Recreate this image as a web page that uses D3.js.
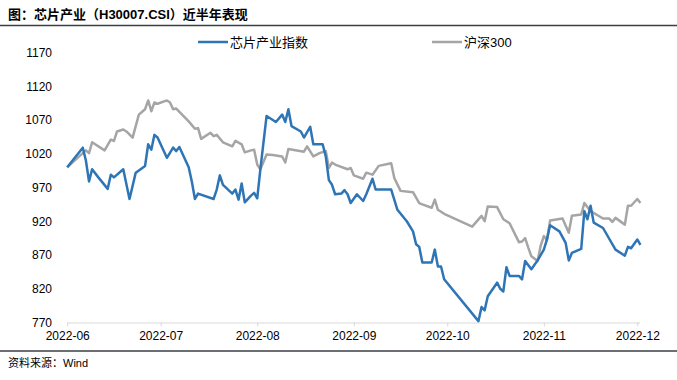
<!DOCTYPE html>
<html><head><meta charset="utf-8">
<script src="https://cdn.jsdelivr.net/npm/d3@7"></script>
<style>
html,body{margin:0;padding:0;background:#fff;}
svg{display:block;font-family:"Liberation Sans",Arial,"Noto Sans CJK SC",sans-serif;}
</style></head>
<body>
<svg id="c" width="677" height="380"></svg>
<script>
const titleText = "图：芯片产业（H30007.CSI）近半年表现";
const sourceText = "资料来源：Wind";
const seriesNames = ["芯片产业指数", "沪深300"];
const yTicks = [770, 820, 870, 920, 970, 1020, 1070, 1120, 1170];
const xTicks = ["2022-06-01","2022-07-01","2022-08-01","2022-09-01","2022-10-01","2022-11-01","2022-12-01"];

const chipDates = ["2022-06-01","2022-06-06","2022-06-07","2022-06-08","2022-06-09","2022-06-11","2022-06-14","2022-06-15","2022-06-16","2022-06-19","2022-06-21","2022-06-23","2022-06-26","2022-06-27","2022-06-28","2022-06-29","2022-06-30","2022-07-03","2022-07-05","2022-07-06","2022-07-07","2022-07-10","2022-07-11","2022-07-12","2022-07-13","2022-07-18","2022-07-19","2022-07-20","2022-07-21","2022-07-24","2022-07-25","2022-07-26","2022-07-27","2022-07-28","2022-07-30","2022-07-31","2022-08-01","2022-08-02","2022-08-04","2022-08-07","2022-08-09","2022-08-10","2022-08-11","2022-08-12","2022-08-15","2022-08-16","2022-08-18","2022-08-19","2022-08-22","2022-08-23","2022-08-24","2022-08-25","2022-08-26","2022-08-28","2022-08-29","2022-08-30","2022-08-31","2022-09-02","2022-09-04","2022-09-05","2022-09-07","2022-09-08","2022-09-13","2022-09-15","2022-09-18","2022-09-20","2022-09-21","2022-09-22","2022-09-23","2022-09-26","2022-09-27","2022-09-28","2022-09-29","2022-09-30","2022-10-11","2022-10-12","2022-10-13","2022-10-14","2022-10-17","2022-10-18","2022-10-19","2022-10-20","2022-10-21","2022-10-24","2022-10-25","2022-10-26","2022-10-28","2022-10-30","2022-11-01","2022-11-02","2022-11-03","2022-11-06","2022-11-08","2022-11-09","2022-11-10","2022-11-13","2022-11-14","2022-11-15","2022-11-16","2022-11-17","2022-11-20","2022-11-24","2022-11-27","2022-11-28","2022-11-29","2022-12-01","2022-12-02"];
const chipValues = [1000,1029,1010,979,997,985,968,989,985,997,953,992,1002,1034,1026,1048,1044,1014,1029,1024,1030,1000,979,953,961,953,967,988,974,961,967,952,976,948,958,962,954,997,1076,1067,1078,1067,1086,1061,1053,1044,1060,1034,1034,1016,981,974,960,961,966,960,947,960,950,960,983,967,967,937,920,905,886,882,859,859,878,853,853,834,772,793,788,809,829,820,816,852,839,839,834,861,849,862,878,893,914,905,888,862,873,879,935,923,943,918,910,878,869,882,880,893,885];

const hsDates = ["2022-06-01","2022-06-06","2022-06-07","2022-06-08","2022-06-09","2022-06-13","2022-06-15","2022-06-16","2022-06-17","2022-06-19","2022-06-20","2022-06-22","2022-06-24","2022-06-26","2022-06-27","2022-06-28","2022-06-29","2022-06-30","2022-07-03","2022-07-04","2022-07-05","2022-07-06","2022-07-10","2022-07-12","2022-07-13","2022-07-14","2022-07-17","2022-07-18","2022-07-19","2022-07-21","2022-07-24","2022-07-25","2022-07-27","2022-07-28","2022-07-30","2022-07-31","2022-08-01","2022-08-02","2022-08-04","2022-08-06","2022-08-09","2022-08-10","2022-08-11","2022-08-16","2022-08-17","2022-08-19","2022-08-21","2022-08-23","2022-08-24","2022-08-25","2022-08-26","2022-08-30","2022-08-31","2022-09-01","2022-09-04","2022-09-05","2022-09-07","2022-09-09","2022-09-13","2022-09-14","2022-09-16","2022-09-20","2022-09-22","2022-09-23","2022-09-26","2022-09-27","2022-09-28","2022-09-30","2022-10-09","2022-10-12","2022-10-13","2022-10-14","2022-10-17","2022-10-19","2022-10-21","2022-10-24","2022-10-25","2022-10-26","2022-10-27","2022-10-28","2022-10-30","2022-10-31","2022-11-01","2022-11-02","2022-11-03","2022-11-07","2022-11-09","2022-11-10","2022-11-13","2022-11-14","2022-11-16","2022-11-20","2022-11-22","2022-11-23","2022-11-24","2022-11-27","2022-11-28","2022-11-29","2022-12-01","2022-12-02"];
const hsValues = [1000,1021,1025,1021,1037,1025,1041,1039,1053,1056,1053,1044,1078,1086,1099,1083,1096,1094,1099,1096,1086,1087,1068,1057,1058,1042,1051,1046,1048,1037,1031,1039,1034,1022,1025,1026,1004,997,1019,1018,1016,1007,1027,1023,1031,1016,1021,1024,999,1007,1004,997,999,988,983,992,989,1002,1006,984,965,963,947,945,940,952,937,931,912,928,920,942,941,923,917,889,890,895,881,868,861,884,898,892,921,924,903,928,930,947,935,924,924,919,925,915,943,943,953,947];

const parse = d3.timeParse("%Y-%m-%d");
const svg = d3.select("#c");
const W = 677, H = 380;

const x = d3.scaleTime().domain([parse(xTicks[0]), parse(xTicks[xTicks.length-1])]).range([67.2, 637.3]);
const y = d3.scaleLinear().domain([770, 1170]).range([322.5, 52.5]);

// title & rules
svg.append("text").attr("x", 8).attr("y", 19).attr("font-size", 13).attr("font-weight", "bold")
  .attr("fill", "#000").text(titleText);
svg.append("line").attr("x1", 0).attr("x2", W).attr("y1", 25.5).attr("y2", 25.5)
  .attr("stroke", "#3a3f44").attr("stroke-width", 1.5);
svg.append("line").attr("x1", 0).attr("x2", W).attr("y1", 351).attr("y2", 351)
  .attr("stroke", "#3a3f44").attr("stroke-width", 1.5);
svg.append("text").attr("x", 8).attr("y", 367).attr("font-size", 11)
  .attr("fill", "#000").text(sourceText);

// y axis labels
const yAxis = d3.axisLeft(y).tickValues(yTicks).tickSize(0).tickPadding(0).tickFormat(d3.format("d"));
const gy = svg.append("g").attr("transform", "translate(52,0)").call(yAxis);
gy.select(".domain").remove();
gy.selectAll("text").attr("font-size", 12).attr("fill", "#000")
  .attr("font-family", "'Liberation Sans',Arial,sans-serif");

// x axis
const xAxis = d3.axisBottom(x).tickValues(xTicks.map(parse)).tickSize(4).tickPadding(5)
  .tickFormat(d3.timeFormat("%Y-%m"));
const gx = svg.append("g").attr("transform", "translate(0,322.5)").call(xAxis);
gx.select(".domain").attr("stroke", "#d9d9d9").attr("d", "M67.2,0.5H640");
gx.selectAll(".tick line").attr("stroke", "#d9d9d9");
gx.selectAll("text").attr("font-size", 12).attr("fill", "#000")
  .attr("font-family", "'Liberation Sans',Arial,sans-serif");

const line = d3.line().x(d => x(d.date)).y(d => y(d.v));
const chip = chipDates.map((d, i) => ({date: parse(d), v: chipValues[i]}));
const hs = hsDates.map((d, i) => ({date: parse(d), v: hsValues[i]}));

svg.append("path").datum(hs).attr("d", line).attr("fill", "none")
  .attr("stroke", "#a5a5a5").attr("stroke-width", 2.5).attr("stroke-linejoin", "round");
svg.append("path").datum(chip).attr("d", line).attr("fill", "none")
  .attr("stroke", "#2e75b6").attr("stroke-width", 2.5).attr("stroke-linejoin", "round");

// legend
const legend = [
  {name: seriesNames[0], color: "#2e75b6", x: 198},
  {name: seriesNames[1], color: "#a5a5a5", x: 432}
];
legend.forEach(l => {
  svg.append("line").attr("x1", l.x).attr("x2", l.x + 30).attr("y1", 42).attr("y2", 42)
    .attr("stroke", l.color).attr("stroke-width", 2.5);
  svg.append("text").attr("x", l.x + 32).attr("y", 46.5).attr("font-size", 13)
    .attr("fill", "#000").text(l.name);
});
</script>
</body></html>
